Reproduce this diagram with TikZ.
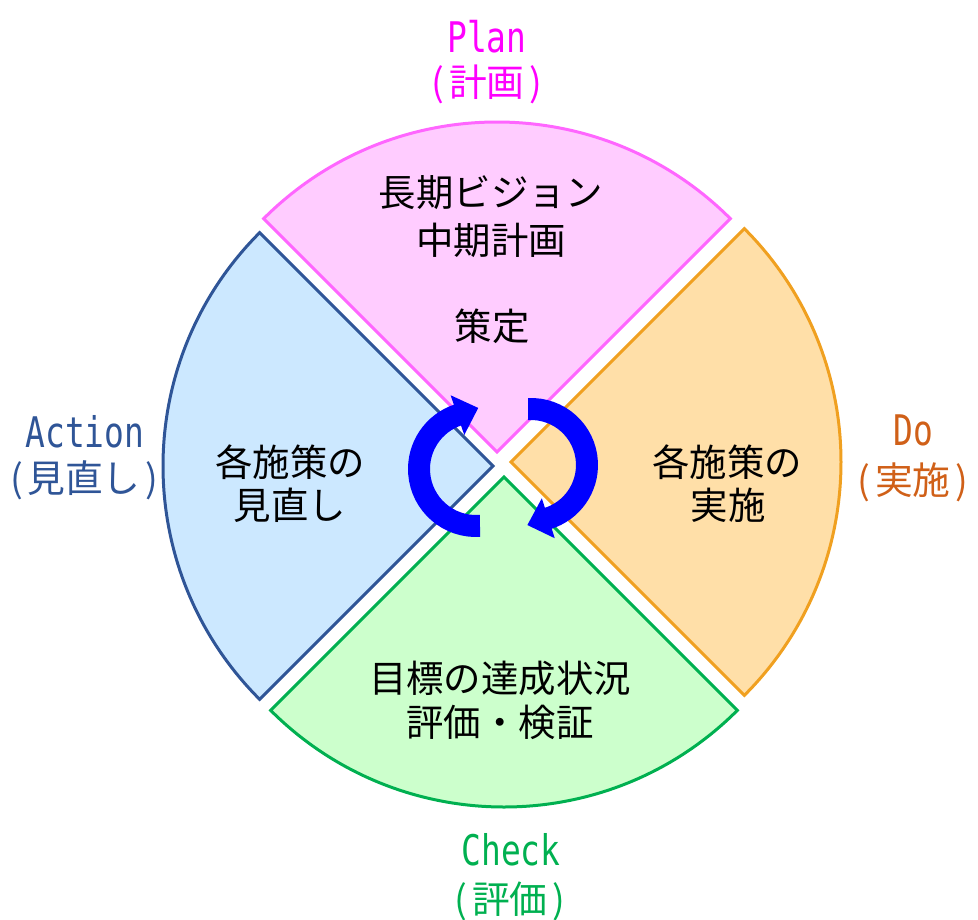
\documentclass[tikz,border=0pt]{standalone}
\usepackage{fontspec}
\setmainfont{Noto Sans CJK JP}
\newfontfamily\latf[FakeStretch=0.78]{DejaVu Sans Mono}
\usetikzlibrary{calc}
\definecolor{pinkfill}{HTML}{FFCCFF}
\definecolor{pinkline}{HTML}{FF66FF}
\definecolor{bluefill}{HTML}{CCE8FF}
\definecolor{blueline}{HTML}{2F5597}
\definecolor{orfill}{HTML}{FFDFA8}
\definecolor{orline}{HTML}{F0A020}
\definecolor{grfill}{HTML}{CCFFCC}
\definecolor{grline}{HTML}{00B050}
\definecolor{plancol}{HTML}{FF00FF}
\definecolor{actcol}{HTML}{2F5597}
\definecolor{docol}{HTML}{D06018}
\definecolor{chkcol}{HTML}{00B050}
\definecolor{arrcol}{HTML}{0000FF}
\newcommand{\parlab}[1]{(\kern0.12em#1\kern0.12em)}
\begin{document}
\begin{tikzpicture}[x=0.02cm,y=-0.02cm,
  wedge/.style={line width=0.06cm, line join=miter},
  body/.style={font=\fontsize{21.3pt}{24.4pt}\selectfont, inner sep=0pt},
  latlab/.style={font=\latf\fontsize{24pt}{28pt}\selectfont, anchor=base, inner sep=0pt},
  cjklab/.style={font=\fontsize{21.5pt}{24pt}\selectfont, inner sep=0pt},
  band/.style={draw=arrcol, line width=0.44cm}]
\useasboundingbox (0,0) rectangle (978,920);

% wedges
\coordinate (pA) at (497,452);
\coordinate (gA) at (504,477);
\coordinate (bA) at (493,466);
\coordinate (oA) at (511,462);
\filldraw[wedge, fill=pinkfill, draw=pinkline] (pA) -- ++(225:330) arc[start angle=225, end angle=315, radius=330] -- cycle;
\filldraw[wedge, fill=grfill, draw=grline] (gA) -- ++(45:330) arc[start angle=45, end angle=135, radius=330] -- cycle;
\filldraw[wedge, fill=bluefill, draw=blueline] (bA) -- ++(135:330) arc[start angle=135, end angle=225, radius=330] -- cycle;
\filldraw[wedge, fill=orfill, draw=orline] (oA) -- ++(-45:330) arc[start angle=-45, end angle=45, radius=330] -- cycle;

% cycle arrows
\coordinate (lc) at (476,469);
\coordinate (rc) at (531,465);
\draw[band] ($(lc)+(86:57)$) arc[start angle=86, end angle=252, radius=57];
\fill[arrcol] ($(lc)+(251:36)$) -- ($(lc)+(251:78)$) -- ($(lc)+(251:57)+(341:22)$) -- cycle;
\draw[band] ($(rc)+(267:56)$) arc[start angle=267, end angle=433, radius=56];
\fill[arrcol] ($(rc)+(72:35)$) -- ($(rc)+(72:77)$) -- ($(rc)+(72:56)+(162:22)$) -- cycle;

% texts
\node[body] (p1) at (491,193) {長期ビジョン};
\node[body] (p2) at (491,240) {中期計画};
\node[body] (p3) at (492,326) {策定};
\node[body] (a1) at (290,462) {各施策の};
\node[body] (a2) at (290,505) {見直し};
\node[body] (d1) at (727,462) {各施策の};
\node[body] (d2) at (728,505) {実施};
\node[body] (c1) at (500,678) {目標の達成状況};
\node[body] (c2) at (500,722) {評価・検証};

% phase labels
\node[latlab, text=plancol] (plan) at (487,52) {Plan};
\node[cjklab, text=plancol] (planj) at (487,84) {\parlab{計画}};
\node[latlab, text=actcol] (act) at (85,447) {Action};
\node[cjklab, text=actcol] (actj) at (84,480) {\parlab{見直し}};
\node[latlab, text=docol] (do) at (913,445) {Do};
\node[cjklab, text=docol] (doj) at (913,482) {\parlab{実施}};
\node[latlab, text=chkcol] (chk) at (511,865) {Check};
\node[cjklab, text=chkcol] (chkj) at (510,901) {\parlab{評価}};
\end{tikzpicture}
\end{document}
